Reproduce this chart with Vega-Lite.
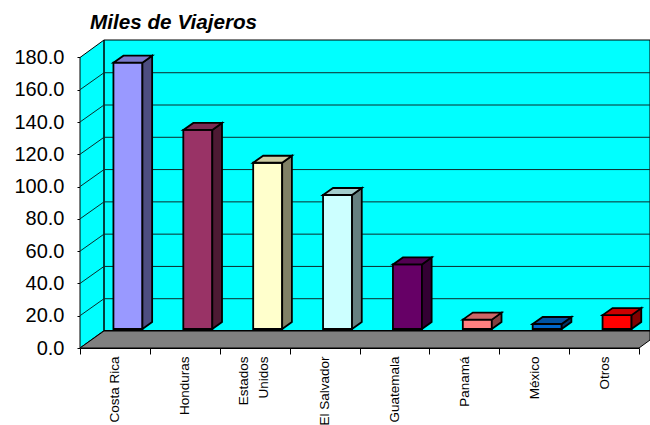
{
"$schema":"https://vega.github.io/schema/vega-lite/v6.json",
"width":559,"height":308,
"padding":{"left":13,"right":0,"top":12,"bottom":0},
"background":"white",
"view":{"stroke":null},
"title":{"text":"Miles de Viajeros","anchor":"start","frame":"group","dx":10,"offset":4,"font":"Liberation Sans","fontSize":20.7,"fontWeight":"bold","fontStyle":"italic","color":"black"},
"data":{"values":[
{"pais":"Costa Rica","viajeros":165},
{"pais":"Honduras","viajeros":123.3},
{"pais":"Estados Unidos","viajeros":103},
{"pais":"El Salvador","viajeros":83},
{"pais":"Guatemala","viajeros":40},
{"pais":"Panamá","viajeros":5.8},
{"pais":"México","viajeros":3.1},
{"pais":"Otros","viajeros":8.6}
]},
"encoding":{
"x":{"field":"pais","type":"nominal","sort":null,"title":null,
 "scale":{"domain":["Costa Rica","Honduras","Estados Unidos","El Salvador","Guatemala","Panamá","México","Otros"],"paddingInner":0,"paddingOuter":0},
 "axis":{"tickBand":"extent","tickSize":6,"tickColor":"black","domainColor":"black","labelAngle":-90,"labelPadding":2,"labelOffset":{"condition":{"test":"datum.label == 'Estados Unidos'","value":-11},"value":0},"labelFont":"Liberation Sans","labelFontSize":13.5,"labelColor":"black","labelLimit":0,"labelOverlap":false,"labelLineHeight":20,"labelExpr":"datum.label == 'Estados Unidos' ? ['Estados','Unidos\u00a0\u00a0'] : datum.label","zindex":1}},
"y":{"field":"viajeros","type":"quantitative","title":null,
 "scale":{"domain":[0,190.8],"nice":false,"zero":false},
 "axis":{"values":[0,20,40,60,80,100,120,140,160,180],"format":".1f","domain":false,"grid":false,"tickSize":3,"tickColor":"black","labelPadding":13,"labelFont":"Liberation Sans","labelFontSize":20,"labelColor":"black"}}
},
"layer":[
{"data":{"values":[{"pieza":"paredes","v":190.8}]},
 "mark":{"type":"point","filled":true,"opacity":1,"size":4,"fill":"#00FFFF","stroke":"black","strokeWidth":1,
  "shape":"M0 17.5L24 0L24 290.5L0 308ZM24 0L570 0L570 290.5L24 290.5Z"},
 "encoding":{"x":{"datum":"Costa Rica","bandPosition":0},"y":{"field":"v","type":"quantitative"}}},
{"data":{"values":[{"v":20},{"v":40},{"v":60},{"v":80},{"v":100},{"v":120},{"v":140},{"v":160}]},
 "mark":{"type":"point","filled":false,"opacity":1,"size":4,"stroke":"#0c2c2c","strokeWidth":1,"shape":"M0 0L24 -17L570 -17"},
 "encoding":{"x":{"datum":"Costa Rica","bandPosition":0},"y":{"field":"v","type":"quantitative"}}},
{"data":{"values":[{"pieza":"suelo","v":10.53}]},
 "mark":{"type":"point","filled":true,"opacity":1,"size":4,"fill":"#808080","stroke":"black","strokeWidth":1,"shape":"M24 0L570 0L570 9L559 17L0 17Z"},
 "encoding":{"x":{"datum":"Costa Rica","bandPosition":0},"y":{"field":"v","type":"quantitative"}}},
{"mark":{"type":"bar","width":29,"xOffset":13,"yOffset":-19,"y2Offset":-19,"stroke":"black","strokeWidth":1.8},
 "encoding":{"fill":{"field":"pais","type":"nominal","legend":null,"sort":null,"scale":{"domain":["Costa Rica","Honduras","Estados Unidos","El Salvador","Guatemala","Panamá","México","Otros"],"range":["#9999FF","#993366","#FFFFCC","#CCFFFF","#660066","#FF8080","#0066CC","#FF0000"]}}}},
{"mark":{"type":"point","filled":true,"opacity":1,"size":4,"stroke":"black","strokeWidth":1.8,"yOffset":-26,
  "shape":{"expr":"'M27.5 7L37.2 0L37.2 ' + format(datum.viajeros*1.6143,'.1f') + 'L27.5 ' + format(datum.viajeros*1.6143+7,'.1f') + 'Z'"}},
 "encoding":{"fill":{"field":"pais","type":"nominal","legend":null,"sort":null,"scale":{"domain":["Costa Rica","Honduras","Estados Unidos","El Salvador","Guatemala","Panamá","México","Otros"],"range":["#4D4D80","#4D1A33","#808066","#668080","#330033","#804040","#003366","#800000"]}}}},
{"mark":{"type":"point","filled":true,"opacity":1,"size":4,"stroke":"black","strokeWidth":1.8,"yOffset":-26,"shape":"M-1.5 7L8.5 0L37.2 0L27.5 7Z"},
 "encoding":{"fill":{"field":"pais","type":"nominal","legend":null,"sort":null,"scale":{"domain":["Costa Rica","Honduras","Estados Unidos","El Salvador","Guatemala","Panamá","México","Otros"],"range":["#7A7ACC","#7A2952","#CCCCA3","#A3CCCC","#520052","#CC6666","#0052A3","#CC0000"]}}}}
],
"resolve":{"scale":{"fill":"independent"}}
}
